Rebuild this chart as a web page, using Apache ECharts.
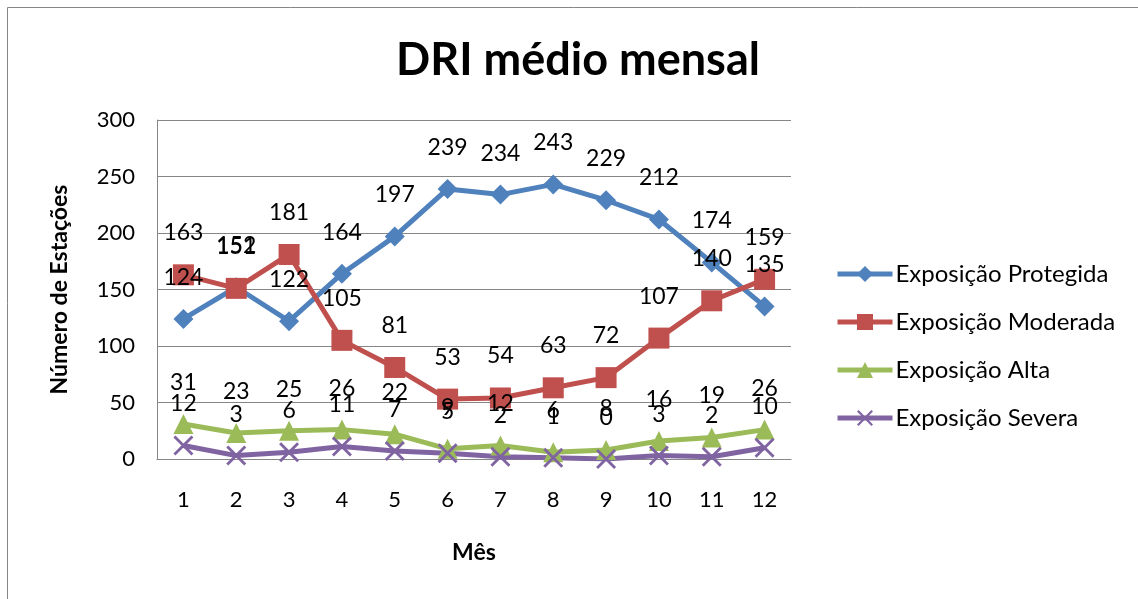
<!DOCTYPE html>
<html>
<head>
<meta charset="utf-8">
<script src="https://cdn.jsdelivr.net/npm/echarts@6/dist/echarts.min.js"></script>
<style>
html, body { margin: 0; padding: 0; background: #fff; }
#chart { width: 1138px; height: 599px; }
</style>
</head>
<body>
<div id="chart"></div>
<script>
var meses = ['1', '2', '3', '4', '5', '6', '7', '8', '9', '10', '11', '12'];
var protegida = [124, 152, 122, 164, 197, 239, 234, 243, 229, 212, 174, 135];
var moderada = [163, 151, 181, 105, 81, 53, 54, 63, 72, 107, 140, 159];
var alta = [31, 23, 25, 26, 22, 9, 12, 6, 8, 16, 19, 26];
var severa = [12, 3, 6, 11, 7, 5, 2, 1, 0, 3, 2, 10];

var fonte = 'Lato, "Open Sans", sans-serif';
// X desenhado como polígono (echarts não tem símbolo "x")
var xSymbol = 'path://M0,1 L1,0 L5,4 L9,0 L10,1 L6,5 L10,9 L9,10 L5,6 L1,10 L0,9 L4,5 Z';

function serie (nome, dados, cor, simbolo, tam) {
    return {
        name: nome,
        type: 'line',
        data: dados,
        symbol: simbolo,
        symbolSize: tam,
        showAllSymbol: true,
        lineStyle: { color: cor, width: 5 },
        itemStyle: { color: cor },
        label: {
            show: true,
            position: 'top',
            distance: 20,
            color: '#000',
            fontSize: 23,
            fontFamily: fonte
        },
        emphasis: { disabled: true }
    };
}

var myChart = echarts.init(document.getElementById('chart'));
var option = {
    animation: false,
    title: {
        text: 'DRI médio mensal',
        left: 573,
        top: 33,
        textAlign: 'center',
        textStyle: { fontSize: 45, fontWeight: 'bold', color: '#000', fontFamily: fonte }
    },
    graphic: [{
        type: 'rect',
        shape: { x: 7.5, y: 7.5, width: 1140, height: 600 },
        style: { fill: 'none', stroke: '#868686', lineWidth: 1 },
        silent: true
    }],
    legend: {
        orient: 'vertical',
        left: 830,
        top: 257,
        itemGap: 24,
        itemWidth: 55,
        itemHeight: 20,
        lineStyle: { width: 5 },
        textStyle: { fontSize: 24, color: '#000', fontFamily: fonte, padding: [0, 0, 0, -2] },
        data: ['Exposição Protegida', 'Exposição Moderada', 'Exposição Alta', 'Exposição Severa']
    },
    grid: { left: 157, right: 1138 - 791, top: 120, bottom: 599 - 459, containLabel: false },
    xAxis: {
        type: 'category',
        data: meses,
        boundaryGap: true,
        name: 'Mês',
        nameLocation: 'middle',
        nameGap: 82,
        nameTextStyle: { fontSize: 23, fontWeight: 'bold', color: '#000', fontFamily: fonte },
        axisLine: { lineStyle: { color: '#868686', width: 1 } },
        axisTick: { show: false },
        axisLabel: { fontSize: 22, color: '#000', margin: 30, fontFamily: fonte },
        z: 1
    },
    yAxis: {
        type: 'value',
        min: 0,
        max: 300,
        interval: 50,
        name: 'Número de Estações',
        nameLocation: 'middle',
        nameGap: 86,
        nameTextStyle: { fontSize: 23, fontWeight: 'bold', color: '#000', fontFamily: fonte },
        axisLine: { show: true, lineStyle: { color: '#868686', width: 1 } },
        axisTick: { show: false },
        axisLabel: { fontSize: 22, color: '#000', margin: 22, fontFamily: fonte },
        splitLine: { lineStyle: { color: '#868686', width: 1 } }
    },
    series: [
        serie('Exposição Protegida', protegida, '#4F81BD', 'diamond', 20),
        serie('Exposição Moderada', moderada, '#C0504D', 'rect', 21),
        serie('Exposição Alta', alta, '#9BBB59', 'triangle', 20),
        serie('Exposição Severa', severa, '#8064A2', xSymbol, 20)
    ]
};
myChart.setOption(option);
</script>
</body>
</html>
